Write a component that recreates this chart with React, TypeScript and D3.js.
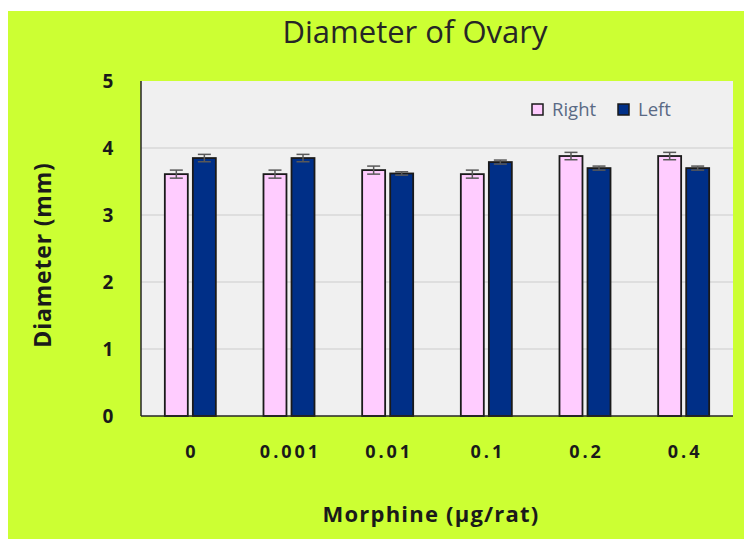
import React, { useRef, useEffect } from 'react';
import * as d3 from 'd3';

const doses = ['0', '0.001', '0.01', '0.1', '0.2', '0.4'];
const seriesNames = ['Right', 'Left'];
const rightValues = [3.61, 3.61, 3.67, 3.61, 3.88, 3.88];
const rightErrors = [0.06, 0.06, 0.06, 0.06, 0.055, 0.055];
const leftValues = [3.85, 3.85, 3.62, 3.79, 3.70, 3.70];
const leftErrors = [0.055, 0.055, 0.025, 0.03, 0.03, 0.03];
const yTicks = [0, 1, 2, 3, 4, 5];

const colors: Record<string, string> = { Right: '#ffccff', Left: '#002f87' };

const W = 744;
const H = 539;

const App: React.FC = () => {
    const ref = useRef<SVGSVGElement>(null);

    useEffect(() => {
        if (!ref.current) return;
        const svg = d3.select(ref.current);
        svg.selectAll('*').remove();

        const plot = { left: 141, right: 733, top: 81, bottom: 416 };

        // green background
        svg.append('rect')
            .attr('x', 8).attr('y', 11)
            .attr('width', W - 8).attr('height', H - 11)
            .attr('fill', '#ccff33');

        svg.append('rect')
            .attr('x', plot.left).attr('y', plot.top)
            .attr('width', plot.right - plot.left).attr('height', plot.bottom - plot.top)
            .attr('fill', '#f0f0f0');

        const y = d3.scaleLinear().domain([0, 5]).range([plot.bottom, plot.top]);
        const x0 = d3.scaleBand<string>()
            .domain(doses)
            .range([plot.left, plot.right])
            .paddingInner(0.483)
            .paddingOuter(0.2415);
        const x1 = d3.scaleBand<string>()
            .domain(seriesNames)
            .range([0, x0.bandwidth()])
            .paddingInner(0.18);

        // gridlines
        svg.append('g')
            .selectAll('line')
            .data(yTicks.filter(t => t > 0 && t < 5))
            .enter()
            .append('line')
            .attr('x1', plot.left).attr('x2', plot.right)
            .attr('y1', d => y(d)).attr('y2', d => y(d))
            .attr('stroke', '#d9d9d9')
            .attr('stroke-width', 1.5);

        const rows = doses.map((d, i) => ({
            dose: d,
            vals: [
                { key: 'Right', v: rightValues[i], e: rightErrors[i] },
                { key: 'Left', v: leftValues[i], e: leftErrors[i] },
            ],
        }));

        const groups = svg.append('g')
            .selectAll('g')
            .data(rows)
            .enter()
            .append('g')
            .attr('transform', d => `translate(${x0(d.dose)},0)`);

        const bars = groups.selectAll('g')
            .data(d => d.vals)
            .enter()
            .append('g');

        bars.append('rect')
            .attr('x', d => x1(d.key)!)
            .attr('y', d => y(d.v))
            .attr('width', x1.bandwidth())
            .attr('height', d => y(0) - y(d.v))
            .attr('fill', d => colors[d.key])
            .attr('stroke', '#1a1a1a')
            .attr('stroke-width', 1.8);

        const cx = (d: { key: string }) => x1(d.key)! + x1.bandwidth() / 2;
        const cap = 6.5;
        bars.append('line')
            .attr('x1', cx).attr('x2', cx)
            .attr('y1', d => y(d.v + d.e)).attr('y2', d => y(d.v - d.e))
            .attr('stroke', '#595959').attr('stroke-width', 1.5);
        bars.append('line')
            .attr('x1', d => cx(d) - cap).attr('x2', d => cx(d) + cap)
            .attr('y1', d => y(d.v + d.e)).attr('y2', d => y(d.v + d.e))
            .attr('stroke', '#595959').attr('stroke-width', 1.5);
        bars.append('line')
            .attr('x1', d => cx(d) - cap).attr('x2', d => cx(d) + cap)
            .attr('y1', d => y(d.v - d.e)).attr('y2', d => y(d.v - d.e))
            .attr('stroke', '#595959').attr('stroke-width', 1.5);

        // axes lines
        svg.append('line')
            .attr('x1', plot.left).attr('x2', plot.left)
            .attr('y1', plot.top).attr('y2', plot.bottom)
            .attr('stroke', '#262626').attr('stroke-width', 1.5);
        svg.append('line')
            .attr('x1', plot.left).attr('x2', plot.right)
            .attr('y1', plot.bottom).attr('y2', plot.bottom)
            .attr('stroke', '#262626').attr('stroke-width', 1.5);

        const font = "'Open Sans', sans-serif";

        // y tick labels
        svg.append('g')
            .selectAll('text')
            .data(yTicks)
            .enter()
            .append('text')
            .attr('x', 108)
            .attr('y', d => y(d))
            .attr('dy', '0.35em')
            .attr('text-anchor', 'middle')
            .attr('font-family', font)
            .attr('font-weight', 'bold')
            .attr('font-size', 19)
            .attr('fill', '#1a1a1a')
            .text(d => d);

        // x tick labels
        svg.append('g')
            .selectAll('text')
            .data(doses)
            .enter()
            .append('text')
            .attr('x', d => x0(d)! + x0.bandwidth() / 2 + 1.5)
            .attr('y', 452)
            .attr('dy', '0.35em')
            .attr('text-anchor', 'middle')
            .attr('font-family', font)
            .attr('font-weight', 'bold')
            .attr('font-size', 18)
            .attr('letter-spacing', 3)
            .attr('fill', '#1a1a1a')
            .text(d => d);

        // title
        svg.append('text')
            .attr('x', 415).attr('y', 32)
            .attr('dy', '0.35em')
            .attr('text-anchor', 'middle')
            .attr('font-family', font)
            .attr('font-size', 31)
            .attr('fill', '#262626')
            .text('Diameter of Ovary');

        // axis titles
        svg.append('text')
            .attr('transform', 'translate(43,255) rotate(-90)')
            .attr('dy', '0.35em')
            .attr('text-anchor', 'middle')
            .attr('font-family', font)
            .attr('font-weight', 'bold')
            .attr('font-size', 23)
            .attr('letter-spacing', 0.8)
            .attr('fill', '#1a1a1a')
            .text('Diameter (mm)');
        svg.append('text')
            .attr('x', 431).attr('y', 514)
            .attr('dy', '0.35em')
            .attr('text-anchor', 'middle')
            .attr('font-family', font)
            .attr('font-weight', 'bold')
            .attr('font-size', 22)
            .attr('letter-spacing', 1.2)
            .attr('fill', '#1a1a1a')
            .text('Morphine (µg/rat)');

        // legend
        const legendX = [532, 618];
        const legend = svg.append('g')
            .selectAll('g')
            .data(seriesNames)
            .enter()
            .append('g')
            .attr('transform', (_, i) => `translate(${legendX[i]},104)`);
        legend.append('rect')
            .attr('width', 11).attr('height', 11)
            .attr('fill', d => colors[d])
            .attr('stroke', '#1a1a1a')
            .attr('stroke-width', 1.5);
        legend.append('text')
            .attr('x', 20).attr('y', 6)
            .attr('dy', '0.35em')
            .attr('font-family', font)
            .attr('font-size', 18.5)
            .attr('fill', '#5a6a85')
            .text(d => d);
    }, []);

    return (
        <svg
            ref={ref}
            width={W}
            height={H}
            style={{ position: 'absolute', left: 0, top: 0 }}
        />
    );
};

export default App;
